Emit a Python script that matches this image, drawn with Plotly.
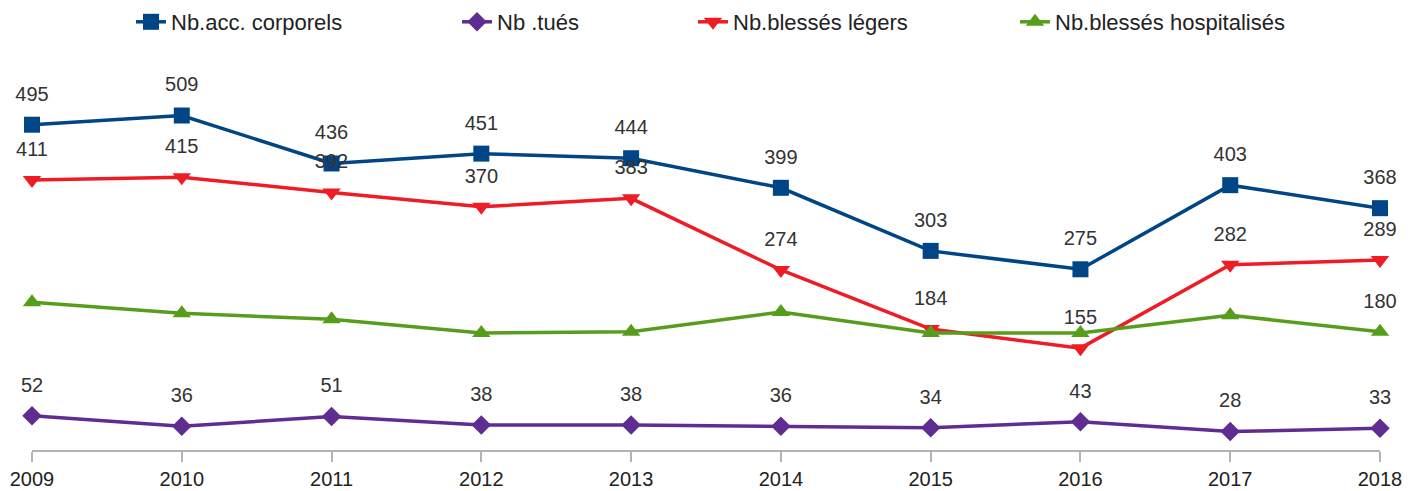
import plotly.graph_objects as go

years = [2009, 2010, 2011, 2012, 2013, 2014, 2015, 2016, 2017, 2018]
acc_corporels = [495, 509, 436, 451, 444, 399, 303, 275, 403, 368]
tues = [52, 36, 51, 38, 38, 36, 34, 43, 28, 33]
blesses_legers = [411, 415, 392, 370, 383, 274, 184, 155, 282, 289]
blesses_hosp = [225, 208, 199, 178, 180, 210, 178, 178, 205, 180]

font_fam = "Liberation Sans, Arial, sans-serif"

series = [
    ("Nb.acc. corporels", acc_corporels, "#004586", "square", True, "legend", 131),
    ("Nb .tués", tues, "#5f2d91", "diamond", True, "legend2", 457),
    ("Nb.blessés légers", blesses_legers, "#ee1c25", "triangle-down", True, "legend3", 693),
    ("Nb.blessés hospitalisés", blesses_hosp, "#579d1c", "triangle-up", False, "legend4", 1015),
]

fig = go.Figure()
legend_layout = {}
for name, vals, color, sym, all_labels, leg, lx in series:
    fig.add_trace(go.Scatter(
        x=years, y=vals, name=name, mode="lines+markers",
        line=dict(color=color, width=3.5),
        marker=dict(symbol=sym, size=16 if sym != "diamond" else 15, color=color),
        cliponaxis=False, legend=leg,
    ))
    legend_layout[leg] = dict(
        orientation="h", xref="container", yref="container",
        x=lx / 1420, xanchor="left", y=1 - 22 / 491, yanchor="middle",
        font=dict(family=font_fam, size=22, color="#222222"),
        bgcolor="rgba(0,0,0,0)",
    )

# value labels
for name, vals, color, sym, all_labels, leg, lx in series:
    if all_labels:
        texts = [str(v) for v in vals]
    else:
        texts = [""] * (len(vals) - 1) + [str(vals[-1])]
    fig.add_trace(go.Scatter(
        x=years, y=vals, mode="markers+text", showlegend=False, hoverinfo="skip",
        marker=dict(size=29, opacity=0),
        text=texts, textposition="top center",
        textfont=dict(family=font_fam, size=20, color="#333333"),
        cliponaxis=False,
    ))

fig.update_layout(
    width=1420, height=491,
    margin=dict(l=32, r=40, t=82, b=41, autoexpand=False),
    plot_bgcolor="white", paper_bgcolor="white",
    font=dict(family=font_fam, size=20, color="#222222"),
    showlegend=True,
    **legend_layout,
)
fig.update_xaxes(range=[2009, 2018], tickmode="array", tickvals=years,
                 ticktext=[str(y) for y in years], showgrid=False,
                 showline=True, linecolor="#b3b3b3", linewidth=1.5,
                 ticks="outside", ticklen=10, tickcolor="#b3b3b3", tickwidth=1.5,
                 tickfont=dict(size=20, color="#222222"), zeroline=False,
                 automargin=False)
fig.update_yaxes(range=[0, 560], showgrid=False, showticklabels=False,
                 zeroline=False, showline=False, automargin=False)

fig.write_html("out.html", config={"displayModeBar": False},
               post_script="document.body.style.margin='0';document.body.style.overflow='hidden';")
